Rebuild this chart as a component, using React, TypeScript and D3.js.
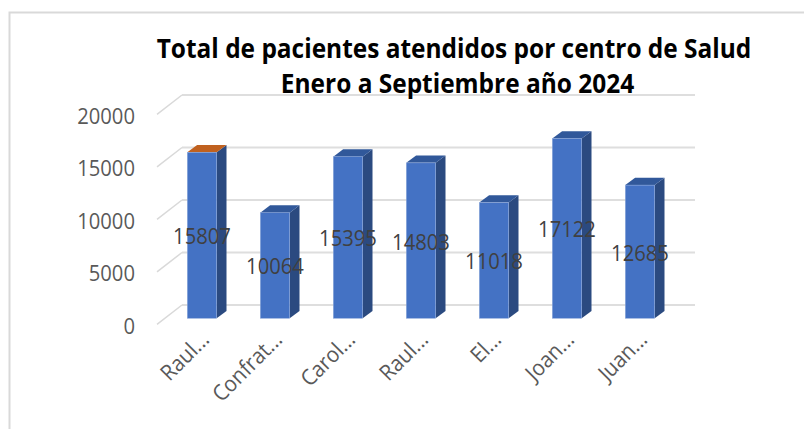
import React from "react";
import * as d3 from "d3";

const categories = ["Raul...", "Confrat...", "Carol...", "Raul...", "El...", "Joan...", "Juan..."];
const values = [15807, 10064, 15395, 14803, 11018, 17122, 12685];
const yTicks = [0, 5000, 10000, 15000, 20000];
const titleLines = ["Total de pacientes atendidos por centro de Salud", "Enero a Septiembre año 2024"];
const font = "'Open Sans', sans-serif";

const W = 804, H = 429;
const y = d3.scaleLinear().domain([0, 20000]).range([318.3, 108.3]);
const x = d3.scalePoint<string>().domain(categories.map((_, i) => String(i))).range([187.3, 625.3]);
const depthX = 9.8, depthY = -7.3;
const backX = 182, backW = 513;
const gridY = (v: number) => y(v) - 13.3;
const sideX0 = 157;
const sideY = (v: number) => gridY(v) + 19.3;
const bw = 29.4;
const xs = (i: number) => x(String(i)) as number;

const poly = (pts: [number, number][]) => {
  const p = d3.path();
  pts.forEach(([a, b], i) => (i ? p.lineTo(a, b) : p.moveTo(a, b)));
  p.closePath();
  return p.toString();
};

export default function App() {
  return (
    <svg width={W} height={H} viewBox={`0 0 ${W} ${H}`} style={{ position: "absolute", left: 0, top: 0, display: "block", background: "#fff" }}>
      <path d="M9.5 429V12.5H804" fill="none" stroke="#d9d9d9" strokeWidth={2} />
      {yTicks.map(t => (
        <g key={t}>
          <line x1={backX} x2={backX + backW} y1={gridY(t)} y2={gridY(t)} stroke="#dedede" strokeWidth={2} />
          <line x1={sideX0} x2={backX} y1={sideY(t)} y2={gridY(t)} stroke="#d9d9d9" strokeWidth={1.5} />
          <text transform={`translate(135,${sideY(t) + 9.2}) scale(0.92,1)`} textAnchor="end" fontFamily={font} fontSize={22} fill="#595959">{t}</text>
        </g>
      ))}
      {values.map((v, i) => {
        const l = xs(i), r = l + bw, top = y(v), base = y(0);
        return (
          <g key={i}>
            <path d={poly([[r, base], [r + depthX, base + depthY], [r + depthX, top + depthY], [r, top]])} fill="#2b4a80" />
            <path d={poly([[l, top], [l + depthX, top + depthY], [r + depthX, top + depthY], [r, top]])} fill={i === 0 ? "#c0611f" : "#31589a"} />
            <rect x={l} y={top} width={bw} height={base - top} fill="#4472c4" stroke="#8faadc" strokeWidth={0.5} />
          </g>
        );
      })}
      {values.map((v, i) => (
        <text key={i} transform={`translate(${xs(i) + bw / 2},${(y(v) + y(0)) / 2 + 9}) scale(0.92,1)`} textAnchor="middle" fontFamily={font} fontSize={22} fill="#404040">{v}</text>
      ))}
      {categories.map((c, i) => (
        <text key={i} transform={`translate(${xs(i) + bw / 2 + 8.5},${341}) rotate(-45) scale(0.93,1)`} textAnchor="end" fontFamily={font} fontSize={22} fill="#595959">{c}</text>
      ))}
      <text transform="translate(454,57.5) scale(0.93,1)" textAnchor="middle" fontFamily={font} fontWeight={700} fontSize={26.3} fill="#000">{titleLines[0]}</text>
      <text transform="translate(457.5,93) scale(0.93,1)" textAnchor="middle" fontFamily={font} fontWeight={700} fontSize={26.3} fill="#000">{titleLines[1]}</text>
    </svg>
  );
}
